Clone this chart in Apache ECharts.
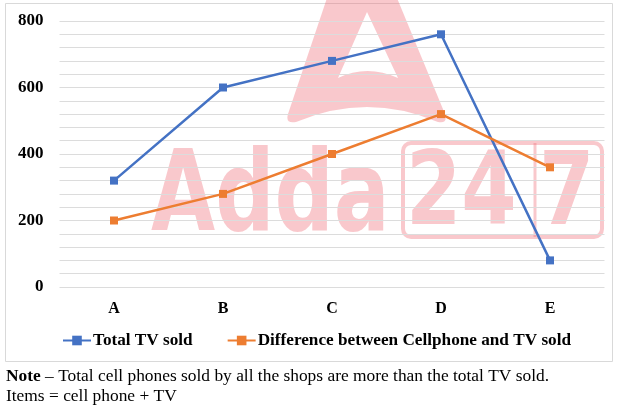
<!DOCTYPE html>
<html><head><meta charset="utf-8">
<script src="https://cdn.jsdelivr.net/npm/echarts@6/dist/echarts.min.js"></script>
<style>html,body{margin:0;padding:0;background:#fff}#c{width:633px;height:410px}</style>
</head><body><div id="c"></div>
<script>
const categories = ['A', 'B', 'C', 'D', 'E'];
const totalTV = [320, 600, 680, 760, 80];
const difference = [200, 280, 400, 520, 360];
const seriesNames = ['Total TV sold', 'Difference between Cellphone and TV sold'];
const yTicks = [0, 200, 400, 600, 800];

const chart = echarts.init(document.getElementById('c'), null, {renderer: 'canvas'});
const wm = 'rgba(240,110,120,0.38)';
const serif = 'Liberation Serif';
// watermark logo "A": outer shape clockwise, inner hole counter-clockwise
const logoPath =
  'M327,-2 L397,-2 L445,114 Q448,124 438,122 Q367,92 296,122 Q285,124 288,114 Z ' +
  'M367,12 L338,78 Q367,64 398,78 Z';
echarts.graphic.registerShape('logoA', echarts.graphic.extendPath(logoPath, {}));
chart.setOption({
  animation: false,
  backgroundColor: '#fff',
  grid: {left: 59.5, right: 28.5, top: 21, height: 266, containLabel: false},
  graphic: [
    {type: 'rect', shape: {x: 5.5, y: 3.5, width: 607, height: 358}, style: {fill: 'none', stroke: '#d9d9d9', lineWidth: 1}, z: -10},
    {type: 'logoA', style: {fill: wm}, z: -5},
    {type: 'text', x: 151, y: 145, scaleX: 0.74, style: {text: 'Adda', font: 'bold 112px "DejaVu Sans"', fill: wm}, z: -5},
    {type: 'rect', shape: {x: 403, y: 143, width: 199, height: 94, r: 8}, style: {fill: 'none', stroke: wm, lineWidth: 4}, z: -5},
    {type: 'line', shape: {x1: 535, y1: 143, x2: 535, y2: 237}, style: {stroke: wm, lineWidth: 3}, z: -5},
    {type: 'text', x: 406, y: 146, scaleX: 0.78, style: {text: '24', font: 'bold 102px "DejaVu Sans"', fill: wm}, z: -5},
    {type: 'text', x: 539, y: 146, scaleX: 0.78, style: {text: '7', font: 'bold 102px "DejaVu Sans"', fill: wm}, z: -5},
    {type: 'text', left: 6, top: 368, style: {rich: {b: {font: 'bold 17.4px "' + serif + '"', fill: '#000'}, n: {font: '17.4px "' + serif + '"', fill: '#000'}}, text: '{b|Note}{n| – Total cell phones sold by all the shops are more than the total TV sold.}'}},
    {type: 'text', left: 6, top: 388, style: {text: 'Items = cell phone + TV', font: '17.4px "' + serif + '"', fill: '#000'}}
  ],
  legend: {
    top: 327, left: 'center', itemGap: 34, itemWidth: 28, itemHeight: 12,
    textStyle: {fontFamily: serif, fontWeight: 'bold', fontSize: 17.2, color: '#000', padding: [0, 0, 0, -3]},
    data: seriesNames
  },
  xAxis: {
    type: 'category', data: categories, boundaryGap: true,
    axisLine: {show: false}, axisTick: {show: false},
    axisLabel: {margin: 14, fontFamily: serif, fontWeight: 'bold', fontSize: 16, color: '#000'}
  },
  yAxis: {
    type: 'value', min: 0, max: 800, interval: 40,
    axisLine: {show: false}, axisTick: {show: false},
    axisLabel: {margin: 16, fontFamily: serif, fontWeight: 'bold', fontSize: 17, color: '#000',
      formatter: v => yTicks.includes(v) ? String(v) : ''},
    splitLine: {lineStyle: {color: '#dcdcdc', width: 1}}
  },
  series: [
    {name: seriesNames[0], type: 'line', data: totalTV, color: '#4472C4', symbol: 'rect', symbolSize: 8,
      lineStyle: {width: 2.5}, z: 3},
    {name: seriesNames[1], type: 'line', data: difference, color: '#ED7D31', symbol: 'rect', symbolSize: 8,
      lineStyle: {width: 2.5}, z: 3}
  ]
});
</script></body></html>
